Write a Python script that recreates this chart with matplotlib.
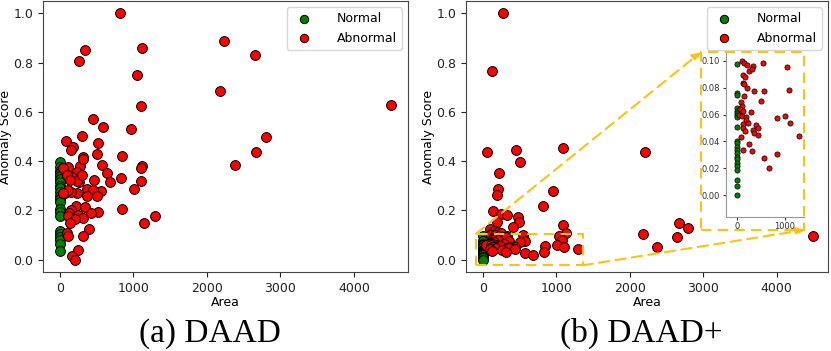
import numpy as np
import matplotlib
matplotlib.use("Agg")
import matplotlib.pyplot as plt
from matplotlib.patches import Rectangle


# (a) DAAD
daad_norm_y = [0.395, 0.377, 0.36, 0.35, 0.339, 0.327, 0.314, 0.30, 0.291, 0.275,
               0.258, 0.245, 0.234, 0.205, 0.192, 0.178, 0.118, 0.105, 0.091,
               0.078, 0.064, 0.034]
daad_abn_x = [815, 258, 340, 1110, 1042, 2229, 2655, 2183, 1100, 4507, 444, 580,
              965, 299, 2800, 82, 172, 145, 512, 498, 2673, 2378, 317, 838, 1114,
              1101, 575, 104, 45, 272, 317, 634, 462, 680, 829, 1096, 236, 159,
              91, 263, 362, 1006, 562, 444, 507, 362, 72, 226, 154, 113, 45, 226,
              303, 136, 217, 344, 145, 516, 122, 847, 240, 113, 317, 204, 426,
              1296, 1146, 140, 399, 91, 104, 308, 240, 159, 204]
daad_abn_y = [1.0, 0.806, 0.853, 0.86, 0.751, 0.887, 0.831, 0.686, 0.622, 0.626,
              0.573, 0.540, 0.531, 0.501, 0.499, 0.482, 0.457, 0.444, 0.473, 0.427,
              0.438, 0.386, 0.418, 0.420, 0.381, 0.373, 0.385, 0.377, 0.373, 0.381,
              0.407, 0.350, 0.325, 0.314, 0.331, 0.321, 0.354, 0.337, 0.344, 0.316,
              0.287, 0.286, 0.279, 0.283, 0.259, 0.259, 0.269, 0.271, 0.276, 0.284,
              0.271, 0.318, 0.344, 0.322, 0.218, 0.214, 0.203, 0.195, 0.190, 0.207,
              0.180, 0.176, 0.170, 0.167, 0.188, 0.177, 0.150, 0.148, 0.125, 0.107,
              0.098, 0.097, 0.038, 0.016, 0.0]

# (b) DAAD+
plus_norm_y = [0.0978, 0.0762, 0.0743, 0.0646, 0.0629, 0.0614, 0.0599, 0.0584,
               0.0505, 0.0406, 0.0386, 0.0361, 0.0337, 0.0312, 0.0287, 0.0267,
               0.0243, 0.0218, 0.0188, 0.0114, 0.0072, 0.0]
plus_abn_x = [268, 118, 50, 444, 1088, 499, 222, 208, 195, 948, 2209, 816, 132,
              241, 322, 481, 186, 494, 413, 1084, 2181, 2667, 2798, 95, 118, 160,
              205, 250, 1130, 2644, 2372, 4499,
              103, 159, 221, 331, 552, 1034, 262, 317, 138, 179, 138, 159, 207,
              359, 566, 1083, 152, 90, 110, 510, 69, 124, 290, 41, 103, 186, 200,
              228, 841, 1007, 1103, 124, 138, 172, 400, 434, 331, 359, 434, 90,
              1290, 255, 124, 317, 572, 828, 676]
plus_abn_y = [1.0, 0.764, 0.437, 0.447, 0.455, 0.396, 0.352, 0.286, 0.261, 0.279,
              0.437, 0.216, 0.197, 0.186, 0.182, 0.175, 0.154, 0.152, 0.131, 0.141,
              0.105, 0.147, 0.130, 0.124, 0.113, 0.118, 0.112, 0.110, 0.110, 0.094,
              0.053, 0.098,
              0.1, 0.0985, 0.0965, 0.0958, 0.0983, 0.095, 0.0926, 0.094, 0.0896,
              0.0876, 0.0837, 0.0827, 0.080, 0.0775, 0.0772, 0.0782, 0.0738,
              0.0696, 0.0663, 0.070, 0.0639, 0.0624, 0.0619, 0.0594, 0.0592,
              0.0584, 0.0557, 0.054, 0.0572, 0.0589, 0.0535, 0.0527, 0.0502,
              0.048, 0.052, 0.0502, 0.0485, 0.046, 0.045, 0.0436, 0.0438, 0.0379,
              0.0337, 0.0332, 0.0277, 0.0307, 0.0205]

gold = "#FFC20E"
W, H = 831, 351

plt.rcParams["font.family"] = "DejaVu Sans"
fig = plt.figure(figsize=(W / 100, H / 100), dpi=100)


def panel(ax, norm_y, abn_x, abn_y, xlim):
    ax.scatter(np.zeros(len(norm_y)), norm_y, s=50, c="green", edgecolors="black",
               linewidths=0.7, label="Normal", zorder=3)
    ax.scatter(abn_x, abn_y, s=50, c="red", edgecolors="black",
               linewidths=0.7, label="Abnormal", zorder=3)
    ax.set_xlim(*xlim)
    ax.set_ylim(-0.05, 1.05)
    ax.set_xticks([0, 1000, 2000, 3000, 4000])
    ax.set_yticks([0.0, 0.2, 0.4, 0.6, 0.8, 1.0])
    ax.tick_params(labelsize=9, colors="#222222")
    for sp in ax.spines.values():
        sp.set_color("#444444")
    ax.set_xlabel("Area", fontsize=9, labelpad=1)
    ax.set_ylabel("Anomaly Score", fontsize=9, labelpad=1)
    ax.legend(loc="upper right", fontsize=9, markerscale=0.85, handletextpad=1.6)


ax1 = fig.add_axes([43 / W, 79 / H, 365 / W, 271 / H])
panel(ax1, daad_norm_y, daad_abn_x, daad_abn_y, (-231, 4735))

ax2 = fig.add_axes([466 / W, 79 / H, 362 / W, 271 / H])
panel(ax2, plus_norm_y, plus_abn_x, plus_abn_y, (-231, 4700))

# zoom box in main axes
ax2.add_patch(Rectangle((-95, -0.023), 1451, 0.128, fill=False, ec=gold,
                        lw=1.5, ls=(0, (5, 3)), zorder=4))

# inset
axin = fig.add_axes([725.7 / W, (H - 216.7) / H, 78.3 / W, 163.7 / H])
axin.scatter(np.zeros(len(plus_norm_y)), plus_norm_y, s=14, c="green",
             edgecolors="black", linewidths=0.5, zorder=3)
axin.scatter(plus_abn_x, plus_abn_y, s=14, c="red", edgecolors="black",
             linewidths=0.5, zorder=3)
axin.set_xlim(-228, 1393)
axin.set_ylim(-0.0159, 0.1057)
axin.set_xticks([0, 1000])
axin.set_yticks([0.0, 0.02, 0.04, 0.06, 0.08, 0.10])
axin.set_yticklabels(["0.00", "0.02", "0.04", "0.06", "0.08", "0.10"])
axin.tick_params(labelsize=6, colors="#333333", length=2, pad=2)
axin.spines["top"].set_visible(False)
axin.spines["right"].set_visible(False)
axin.spines["left"].set_color("#999999")
axin.spines["bottom"].set_color("#999999")

x0, x1 = 700.7 / W, 804.3 / W
y0, y1 = (H - 230) / H, (H - 52.3) / H
fig.add_artist(Rectangle((x0, y0), x1 - x0, y1 - y0, transform=fig.transFigure,
                         fill=False, ec=gold, lw=1.5, ls=(0, (5, 3))))

for start, end in [((-95, 0.105), (x0, y1)), ((1356, -0.023), (x1, y0))]:
    ax2.annotate("", xy=end, xycoords="figure fraction", xytext=start,
                 textcoords="data",
                 arrowprops=dict(arrowstyle="-|>", color=gold, lw=1.5,
                                 ls=(0, (5, 3)), mutation_scale=12,
                                 shrinkA=0, shrinkB=0))

fig.text(210 / W, 0.025, "(a) DAAD", fontsize=24, family="Liberation Serif",
         ha="center", va="baseline")
fig.text(641 / W, 0.025, "(b) DAAD+", fontsize=24, family="Liberation Serif",
         ha="center", va="baseline")

fig.savefig("out.png", dpi=100)
